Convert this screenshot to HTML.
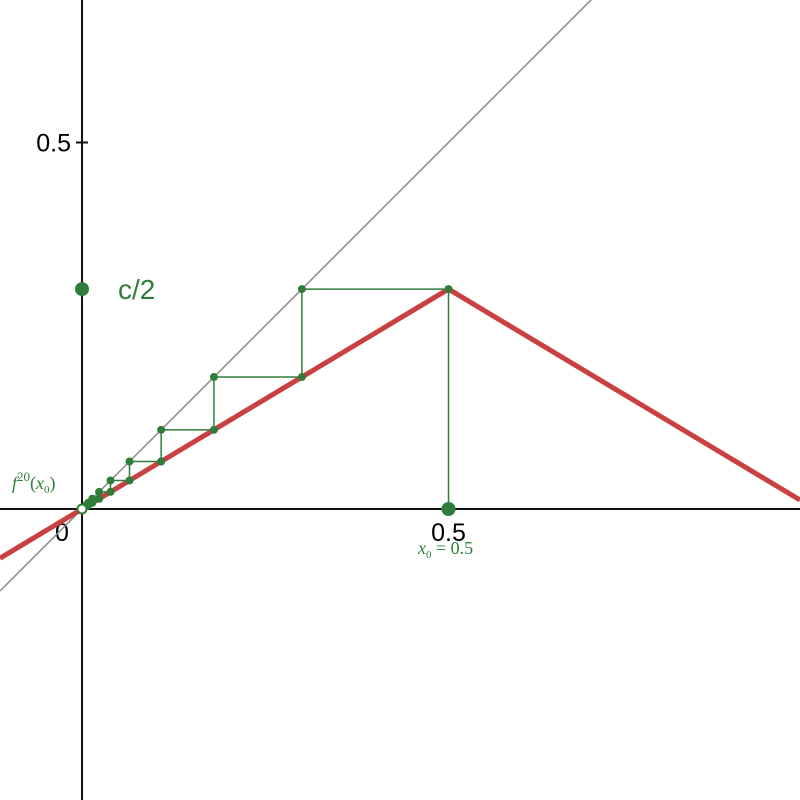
<!DOCTYPE html>
<html><head><meta charset="utf-8"><style>
html,body{margin:0;padding:0;background:#fff}
svg{display:block;font-family:"Liberation Sans",sans-serif}
</style></head><body>
<svg id="chart" width="800" height="800" viewBox="0 0 800 800" xmlns="http://www.w3.org/2000/svg"></svg>
<script>
const cValue = [0.6];
const startX = [0.5];
const iterationCount = [20];
const xTickValues = [0.5];
const yTickValues = [0.5];
const xTickLabels = ["0.5"];
const yTickLabels = ["0.5"];

const NS = "http://www.w3.org/2000/svg";
const svg = document.getElementById("chart");
const ox = 82, oy = 509, s = 733;
const X = v => ox + v * s;
const Y = v => oy - v * s;
const c = cValue[0];
const f = x => x < 0.5 ? c * x : c * (1 - x);
const green = "#2e7d3a";

function el(tag, attrs, text) {
  const e = document.createElementNS(NS, tag);
  for (const k in attrs) e.setAttribute(k, attrs[k]);
  if (text !== undefined) e.textContent = text;
  svg.appendChild(e);
  return e;
}

let a = el("line", {x1: 0, y1: oy, x2: 800, y2: oy, stroke: "#111", "stroke-width": 2});


a = el("line", {x1: ox, y1: 0, x2: ox, y2: 800, stroke: "#111", "stroke-width": 2});



xTickValues.forEach((v, i) => {
  const t = el("line", {x1: X(v), y1: oy - 6, x2: X(v), y2: oy + 6, stroke: "#111", "stroke-width": 2});
  
  
  const l = el("text", {x: X(v), y: oy + 32, "font-size": 25, "text-anchor": "middle", fill: "#000"}, xTickLabels[i]);
  
  
});
yTickValues.forEach((v, i) => {
  const t = el("line", {x1: ox - 6, y1: Y(v), x2: ox + 6, y2: Y(v), stroke: "#111", "stroke-width": 2});
  
  
  const l = el("text", {x: ox - 11, y: Y(v) + 9, "font-size": 25, "text-anchor": "end", fill: "#000"}, yTickLabels[i]);
  
  
});
let z = el("text", {x: 62, y: 541, "font-size": 25, "text-anchor": "middle", fill: "#000"}, "0");



const xmin = -ox / s, xmax = (800 - ox) / s;
let idl = el("line", {x1: X(xmin), y1: Y(xmin), x2: X(xmax), y2: Y(xmax), stroke: "#888", "stroke-width": 1.5});



let x = startX[0];
let d = "M" + X(x) + "," + Y(0);
const cob = [];
for (let i = 0; i < iterationCount[0]; i++) {
  const y = f(x);
  d += " L" + X(x) + "," + Y(y) + " L" + X(y) + "," + Y(y);
  cob.push([x, y]);
  x = y;
}
const cw = el("path", {d: d, fill: "none", stroke: green, "stroke-width": 1.5});



const tent = el("polyline", {points: [xmin, 0.5, xmax].map(v => X(v) + "," + Y(f(v))).join(" "), fill: "none", stroke: "#c94040", "stroke-width": 5});



cob.forEach(([px, py]) => {
  const p1 = el("circle", {cx: X(px), cy: Y(py), r: 4, fill: green});
  
  
  const p2 = el("circle", {cx: X(py), cy: Y(py), r: 4, fill: green});
  
  
});

const x0p = el("circle", {cx: X(startX[0]), cy: Y(0), r: 7, fill: green});


const cp = el("circle", {cx: X(0), cy: Y(c / 2), r: 7, fill: green});


const ct = el("text", {x: 118, y: Y(c / 2) + 10, "font-size": 28, fill: green}, "c/2");



const fp = el("circle", {cx: X(x), cy: Y(x), r: 4.5, fill: "#fff", stroke: green, "stroke-width": 2});



const fl = el("text", {x: 12, y: 489, "font-size": 18, fill: green, "font-family": "Liberation Serif, serif", "font-style": "italic"});
fl.innerHTML = 'f<tspan dy="-8" font-size="13" font-style="normal">20</tspan><tspan dy="8" font-style="normal">(</tspan>x<tspan dy="4" font-size="11" font-style="normal">0</tspan><tspan dy="-4" font-style="normal">)</tspan>';



const xl = el("text", {x: 418, y: 554, "font-size": 18, fill: green, "font-family": "Liberation Serif, serif", "font-style": "italic"});
xl.innerHTML = 'x<tspan dy="4" font-size="11" font-style="normal">0</tspan><tspan dy="-4" font-style="normal"> = 0.5</tspan>';


</script>
</body></html>
